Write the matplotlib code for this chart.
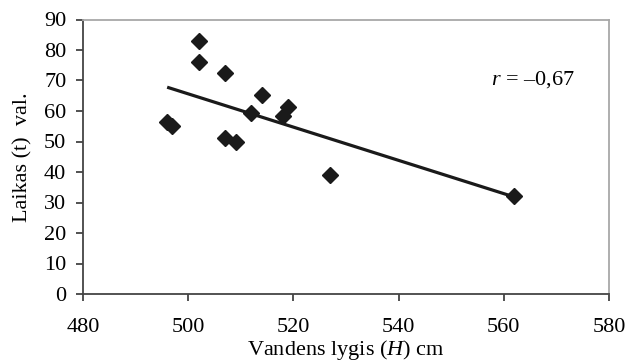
import numpy as np
import matplotlib
matplotlib.use("Agg")
import matplotlib.pyplot as plt

plt.rcParams['font.family'] = ['Liberation Serif', 'DejaVu Serif']
plt.rcParams['mathtext.fontset'] = 'custom'
plt.rcParams['mathtext.rm'] = 'Liberation Serif'
plt.rcParams['mathtext.it'] = 'Liberation Serif:italic'

water_level = [496, 497, 502, 502, 507, 507, 509, 512, 514, 518, 519, 527, 562]
time_hours = [56.5, 55.0, 83.0, 76.0, 72.5, 51.0, 50.0, 59.5, 65.3, 58.2, 61.3, 39.0, 32.0]
x_ticks = [480, 500, 520, 540, 560, 580]
y_ticks = [0, 10, 20, 30, 40, 50, 60, 70, 80, 90]
r_label = "$r$ = \u20130,67"

fig = plt.figure(figsize=(6.29, 3.63), dpi=100)
ax = fig.add_axes([83/629, 1-294/363, (609-83)/629, (294-19.5)/363])

x = np.array(water_level)
y = np.array(time_hours)
slope, intercept = np.polyfit(x, y, 1)
xl = np.array([x.min(), x.max()])
ax.plot(xl, slope*xl + intercept, color='#1a1a1a', lw=2.3, zorder=2, solid_capstyle='butt')
ax.plot(x, y, linestyle='none', marker='D', markersize=8.5, color='#1a1a1a', zorder=3)

ax.set_xlim(480, 580)
ax.set_ylim(0, 90)
ax.set_xticks(x_ticks)
ax.set_yticks(y_ticks)
ax.tick_params(direction='out', length=5, width=1.2, color='#333333', labelsize=16)
ax.tick_params(axis='x', pad=12.5)
ax.tick_params(axis='y', pad=7)

for s in ['left', 'bottom']:
    ax.spines[s].set_color('#444444')
    ax.spines[s].set_linewidth(1.3)
for s in ['top', 'right']:
    ax.spines[s].set_color('#a8a8a8')
    ax.spines[s].set_linewidth(1.3)

ax.set_xlabel("Vandens lygis ($H$) cm", fontsize=16, labelpad=0.5)
ax.set_ylabel("Laikas (t)  val.", fontsize=16, labelpad=8)
ax.text(565.6, 70.2, r_label, fontsize=16, ha='center', va='center')

fig.savefig("out.png", dpi=100)
